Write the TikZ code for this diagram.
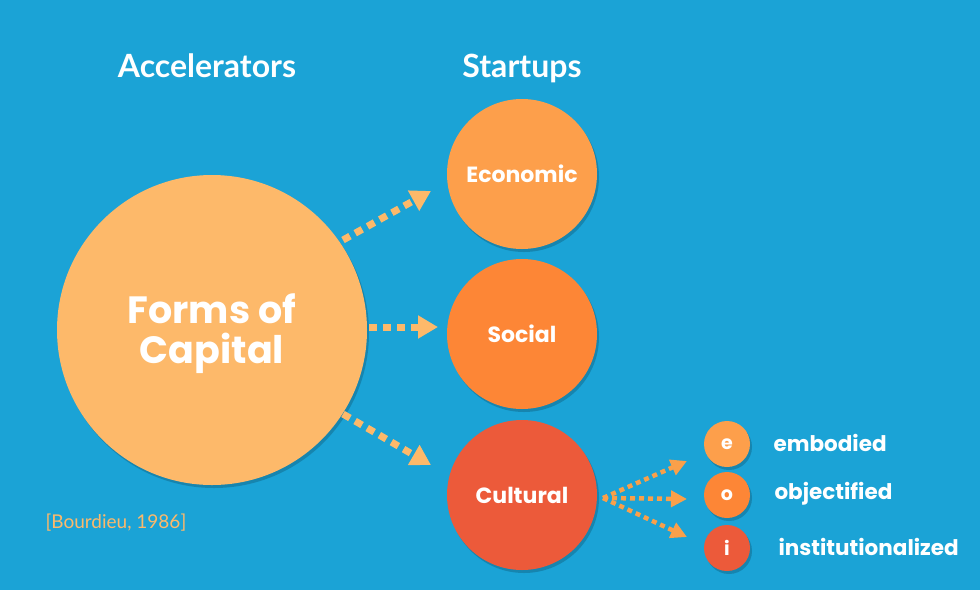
\documentclass[tikz,border=0pt]{standalone}
\usepackage{fontspec}
\setmainfont{Lato}
\newfontfamily\popp{Poppins}
\usetikzlibrary{arrows.meta}
\definecolor{bg}{HTML}{1BA3D6}
\definecolor{cbig}{HTML}{FDB96A}
\definecolor{cecon}{HTML}{FD9F4B}
\definecolor{csoc}{HTML}{FD8636}
\definecolor{ccult}{HTML}{EC5A3A}
\definecolor{carr}{HTML}{FDB96A}
\definecolor{carr2}{HTML}{F9A04A}
\begin{document}
\begin{tikzpicture}[x=1pt,y=-1pt,
  circ/.style={circle,inner sep=0pt,text=white,font=\popp\bfseries},
  shadowed/.style={preaction={fill=black,opacity=0.18,transform canvas={shift={(2pt,-3pt)}}}},
  bigarrow/.style={draw=carr,line width=7pt,dash pattern=on 8pt off 6pt,-{Triangle[length=20pt,width=22pt,fill=carr]}},
  smallarrow/.style={draw=carr2,line width=4.5pt,dash pattern=on 5pt off 4pt,-{Triangle[length=16pt,width=16pt,fill=carr2]}},
  title/.style={text=white,anchor=base,font=\fontsize{32}{36}\selectfont\bfseries},
  lbl/.style={text=white,font=\popp\fontsize{21.5}{24}\selectfont\bfseries,anchor=west}
]
\fill[bg] (0,0) rectangle (980,590);
\useasboundingbox (0,0) rectangle (980,590);

\node[title] (tacc) at (207,77) {Accelerators};
\node[title] (tstart) at (522,77) {Startups};

\node[circ,fill=cbig,shadowed,minimum size=310pt] (big) at (212,330) {};
\node[text=white,align=center,font=\popp\bfseries\fontsize{38}{40}\selectfont] (bigtxt) at (212,334) {Forms of\\Capital};
\node[circ,fill=cecon,shadowed,minimum size=150pt,font=\popp\bfseries\fontsize{22}{24}\selectfont] (econ) at (522,174) {Economic};
\node[circ,fill=csoc,shadowed,minimum size=150pt,font=\popp\bfseries\fontsize{22}{24}\selectfont] (soc) at (522,334) {Social};
\node[circ,fill=ccult,shadowed,minimum size=150pt,font=\popp\bfseries\fontsize{22}{24}\selectfont] (cult) at (522,495) {Cultural};

\node[circ,fill=cecon,shadowed,minimum size=46pt,font=\popp\bfseries\fontsize{19}{20}\selectfont] (e) at (727,444) {e};
\node[circ,fill=csoc,shadowed,minimum size=46pt,font=\popp\bfseries\fontsize{19}{20}\selectfont] (o) at (727,495) {o};
\node[circ,fill=ccult,shadowed,minimum size=46pt,font=\popp\bfseries\fontsize{19}{20}\selectfont] (i) at (727,548) {i};

\node[lbl] (le) at (770,443) {embodied};
\node[lbl] (lo) at (771,494) {objectified};
\node[lbl] (li) at (775,547) {institutionalized};

\node[text=carr,font=\fontsize{19}{22}\selectfont,anchor=west] (ref) at (42,523) {[Bourdieu, 1986]};

\coordinate (a1s) at (343,240);
\coordinate (a1e) at (431,191);
\coordinate (a2s) at (369,327);
\coordinate (a2e) at (438,327);
\coordinate (a3s) at (343,414);
\coordinate (a3e) at (431,465);
\draw[bigarrow] (a1s) -- (a1e);
\draw[bigarrow] (a2s) -- (a2e);
\draw[bigarrow] (a3s) -- (a3e);

\coordinate (cs) at (603,498);
\coordinate (ce) at (687,461);
\coordinate (co) at (687,499);
\coordinate (ci) at (687,537);
\draw[smallarrow] (cs) -- (ce);
\draw[smallarrow] (cs) -- (co);
\draw[smallarrow] (cs) -- (ci);
\end{tikzpicture}
\end{document}
